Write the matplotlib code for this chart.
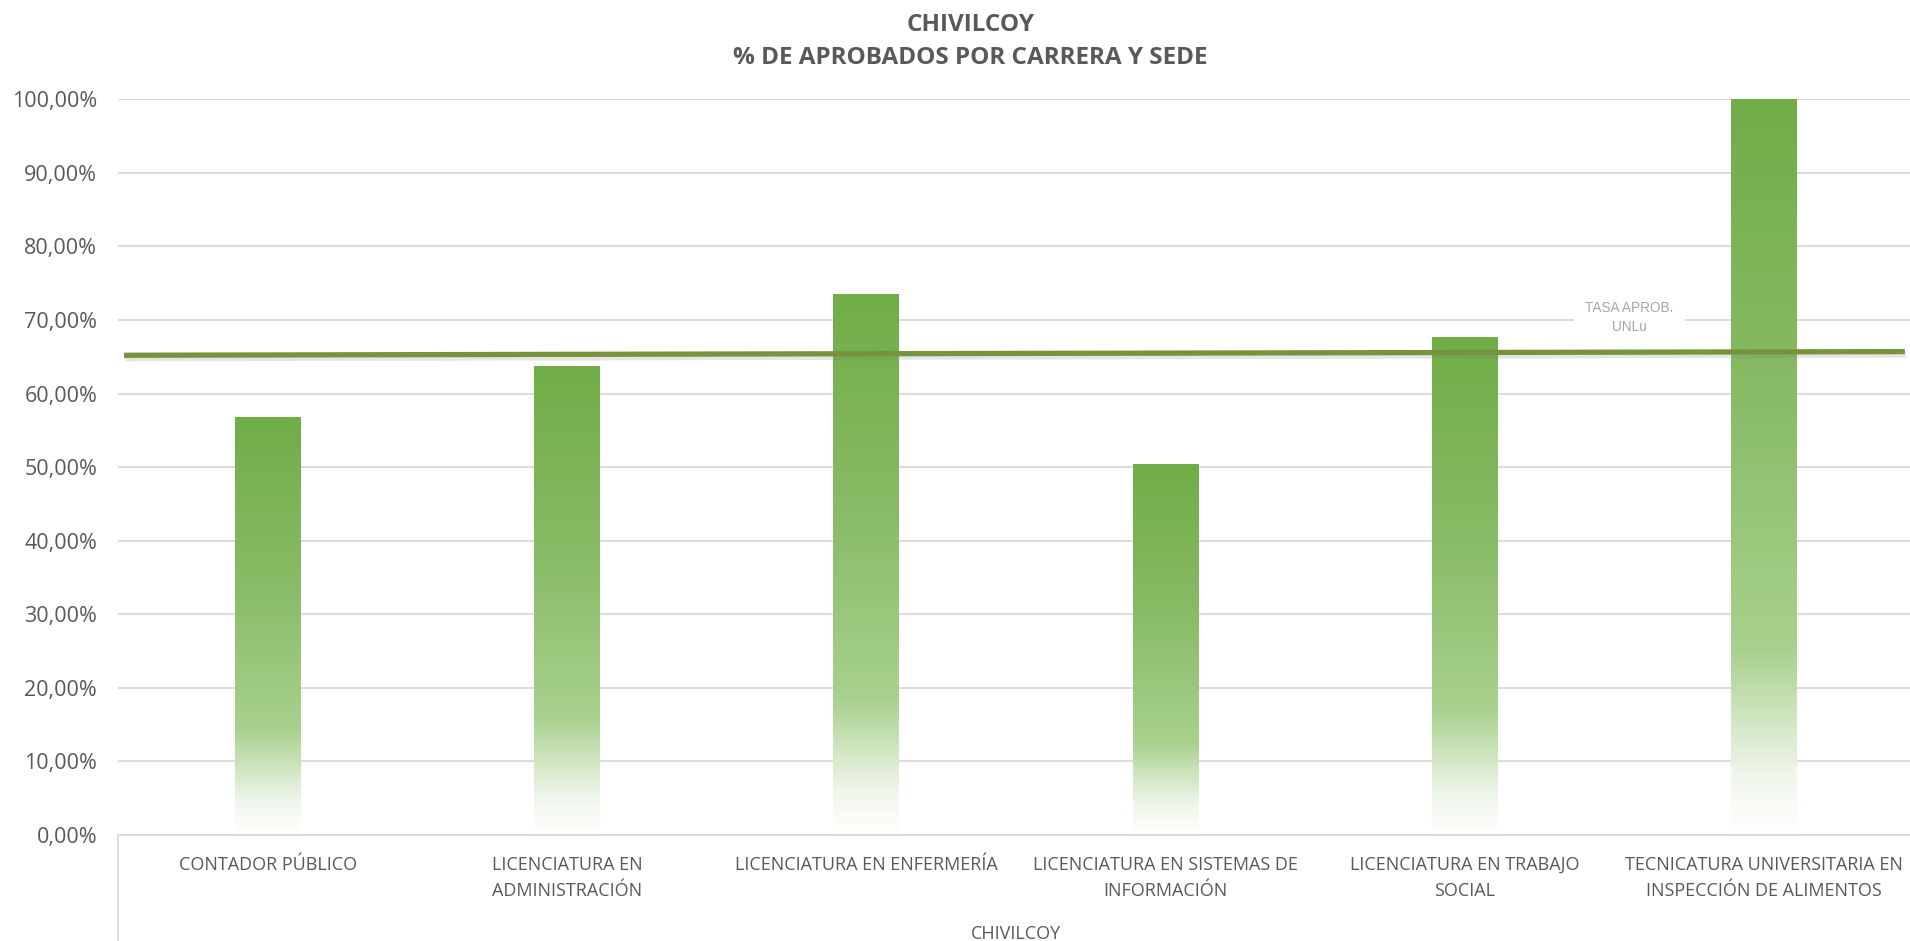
import numpy as np
import matplotlib
matplotlib.use("Agg")
import matplotlib.pyplot as plt
import matplotlib.patheffects as pe
from matplotlib.colors import LinearSegmentedColormap

plt.rcParams['font.family'] = ['Open Sans', 'DejaVu Sans']

carreras = ["CONTADOR PÚBLICO",
            "LICENCIATURA EN\nADMINISTRACIÓN",
            "LICENCIATURA EN ENFERMERÍA",
            "LICENCIATURA EN SISTEMAS DE\nINFORMACIÓN",
            "LICENCIATURA EN TRABAJO\nSOCIAL",
            "TECNICATURA UNIVERSITARIA EN\nINSPECCIÓN DE ALIMENTOS"]
aprobados = [56.8, 63.6, 73.5, 50.4, 67.6, 100.0]
tasa_unlu = [65.2, 65.7]   # inicio / fin de la línea de referencia
sede = "CHIVILCOY"
yticks = np.arange(0, 101, 10)

gris = "#595959"
verde_linea = "#77933C"

fig = plt.figure(figsize=(19.1, 9.41), dpi=100)
ax = fig.add_axes([0.0618, 0.1126, 0.9402, 0.782])

# degradado de las barras: verde arriba -> blanco abajo
cmap = LinearSegmentedColormap.from_list(
    "barra", [(0.0, "#FFFFFF"), (0.08, "#F0F6EB"), (0.25, "#A9D18E"),
              (0.6, "#88BB66"), (1.0, "#70AD47")])
grad = np.linspace(0, 1, 256).reshape(-1, 1)

x = np.arange(len(carreras))
ancho = 0.22
bars = ax.bar(x, aprobados, width=ancho, color="none", zorder=2)
for b in bars:
    x0 = b.get_x()
    ax.imshow(grad, extent=[x0, x0 + b.get_width(), 0, b.get_height()],
              origin="lower", aspect="auto", cmap=cmap, zorder=2)

# línea TASA APROB. UNLu
ax.plot([-0.48, 5.47], tasa_unlu, color=verde_linea, lw=3.8, zorder=4,
        solid_capstyle="butt",
        path_effects=[pe.SimpleLineShadow(offset=(1, -2.5), shadow_color="#7F7F7F", alpha=0.2),
                      pe.Normal()])
ax.text(4.55, 70.3, "TASA APROB.\nUNLu", ha="center", va="center", fontsize=9.8,
        color="#A6A6A6", linespacing=1.45, zorder=5, family=["Liberation Sans"],
        bbox=dict(boxstyle="square,pad=0.8", fc="white", ec="none"))

ax.set_xlim(-0.5, len(carreras) - 0.5)
ax.set_ylim(0, 100)
ax.set_yticks(yticks)
ax.set_yticklabels([f"{v:.2f}%".replace(".", ",") for v in yticks], fontsize=15.5, color=gris)
ax.set_xticks(x)
ax.set_xticklabels(carreras, fontsize=13, color=gris, linespacing=1.6)
ax.tick_params(axis="both", length=0)
ax.tick_params(axis="x", pad=15)
ax.tick_params(axis="y", pad=15)

ax.grid(axis="y", color="#D9D9D9", lw=1.3, zorder=0)
ax.set_axisbelow(True)
for s in ["top", "right", "left"]:
    ax.spines[s].set_visible(False)
ax.spines["bottom"].set_color("#D9D9D9")
ax.spines["bottom"].set_linewidth(1.3)

# eje de categorías multinivel
ax.plot([0, 0], [0, -0.2], transform=ax.transAxes, color="#D9D9D9", lw=1.3, clip_on=False)
ax.text(0.5, -0.134, sede, transform=ax.transAxes, ha="center", va="center",
        fontsize=13, color=gris)

fig.text(0.508, 0.986, "CHIVILCOY\n% DE APROBADOS POR CARRERA Y SEDE", ha="center", va="top",
         fontsize=17.5, fontweight="bold", color=gris, linespacing=1.5)

fig.savefig("out.png", dpi=100)
